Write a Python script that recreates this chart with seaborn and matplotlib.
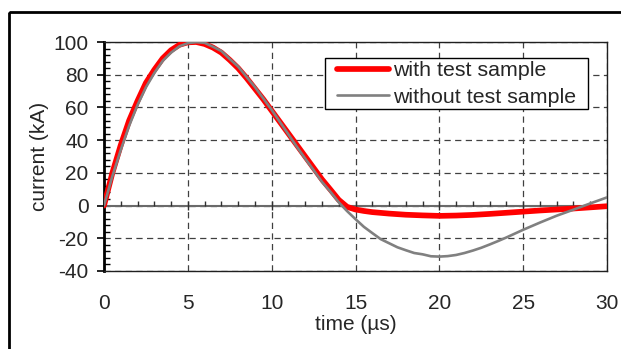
import matplotlib
matplotlib.use("Agg")
import matplotlib.pyplot as plt
import matplotlib.patches as mpatches
from matplotlib.ticker import MultipleLocator
import seaborn as sns
import pandas as pd

# ---- data ----
t_with = [0, 0.5, 1, 1.5, 2, 2.5, 3, 3.5, 4, 4.5, 5, 5.5, 6, 6.5, 7, 7.5, 8, 8.5,
          9, 9.5, 10, 10.5, 11, 11.5, 12, 12.5, 13, 13.5, 14, 14.5, 15, 15.5, 16,
          17, 18, 19, 20, 21, 22, 23, 24, 25, 26, 27, 28, 29, 30]
i_with = [0, 20, 37, 52, 64, 75, 83, 90, 95, 98.3, 99.8, 100, 98.8, 96.6, 93.5,
          89, 84, 78, 71.5, 65, 58, 51, 44, 37, 30, 23, 16, 9.8, 3.5, -0.8, -2.4,
          -3.3, -4.0, -4.9, -5.6, -6.0, -6.3, -6.1, -5.7, -5.1, -4.4, -3.7, -3.0,
          -2.4, -1.8, -1.1, -0.4]
t_without = [0, 0.5, 1, 1.5, 2, 2.5, 3, 3.5, 4, 4.5, 5, 5.5, 6, 6.5, 7, 7.5, 8,
             8.5, 9, 9.5, 10, 10.5, 11, 11.5, 12, 12.5, 13, 13.5, 14, 14.5, 15,
             15.5, 16, 16.5, 17, 17.5, 18, 18.5, 19, 19.5, 20, 20.5, 21, 21.5, 22,
             22.5, 23, 23.5, 24, 25, 26, 27, 28, 29, 30]
i_without = [0, 18, 34, 48.8, 61.5, 72.3, 81, 88.4, 93.5, 97.4, 99.3, 99.9, 99.5,
             97.1, 94.5, 89.6, 85, 78.7, 72.5, 65.5, 58.5, 51, 43.5, 36, 28.7,
             21.7, 14.5, 8.5, 2.0, -3.4, -8.3, -13.0, -16.8, -20.5, -23.0, -25.5,
             -27.3, -29.0, -29.8, -31.0, -31.2, -30.9, -30.2, -29.0, -27.5, -25.8,
             -23.8, -21.7, -19.5, -14.8, -10.4, -6.2, -2.5, 1.3, 5.0]
label_with = "with test sample"
label_without = "without test sample"
x_ticks = [0, 5, 10, 15, 20, 25, 30]
y_ticks = [-40, -20, 0, 20, 40, 60, 80, 100]

df_with = pd.DataFrame({"time": t_with, "current": i_with, "series": label_with})
df_without = pd.DataFrame({"time": t_without, "current": i_without, "series": label_without})

sns.set_theme(style="white")
plt.rcParams["font.family"] = ["Liberation Sans", "DejaVu Sans"]
plt.rcParams["axes.unicode_minus"] = False

FS = 15

fig = plt.figure(figsize=(6.21, 3.49), dpi=100)
ax = fig.add_axes([104 / 621, 1 - 271 / 349, 503 / 621, 229 / 349])

# outer frame of the figure
fig.patches.append(mpatches.Rectangle((9 / 621, 1 - 12 / 349), 2, -2,
                                      transform=fig.transFigure, fill=False,
                                      edgecolor="black", linewidth=2.0,
                                      clip_on=False))

sns.lineplot(data=df_with, x="time", y="current", ax=ax, color="#ff0000",
             linewidth=4.1, label=label_with, zorder=3)
sns.lineplot(data=df_without, x="time", y="current", ax=ax, color="#808080",
             linewidth=1.9, label=label_without, zorder=4)

ax.set_xlim(0, 30)
ax.set_ylim(-40, 100)
ax.set_xticks(x_ticks)
ax.set_yticks(y_ticks)
ax.yaxis.set_minor_locator(MultipleLocator(4))

ax.grid(True, which="major", color="#404040", linestyle=(0, (5, 3.5)), linewidth=0.9)
ax.set_axisbelow(True)

# zero line with minor ticks (Excel style category axis at y=0)
ax.axhline(0, color="#6a6a6a", linewidth=1.5, zorder=2)
for xv in range(1, 30):
    if xv % 5:
        ax.plot([xv, xv], [0, 2.6], color="#303030", linewidth=1.0, zorder=2,
                solid_capstyle="butt")
for xv in x_ticks[1:-1]:
    ax.plot([xv, xv], [-2.5, 2.8], color="#303030", linewidth=1.0, zorder=2,
            solid_capstyle="butt")

for s in ["top", "right", "bottom"]:
    ax.spines[s].set_color("#202020")
    ax.spines[s].set_linewidth(1.0)
ax.spines["left"].set_color("black")
ax.spines["left"].set_linewidth(2.0)

ax.tick_params(axis="y", which="major", direction="out", length=5, width=1.2,
               color="black", labelsize=FS, pad=6, left=True)
ax.tick_params(axis="y", which="minor", direction="in", length=4, width=1.0,
               color="black", left=True)
ax.tick_params(axis="x", which="major", length=0, labelsize=FS, pad=16.5)

ax.set_xlabel("time (µs)", fontsize=FS, labelpad=1.5)
ax.set_ylabel("current (kA)", fontsize=FS, labelpad=3)

# legend (frame drawn as a separate box to match the reference padding)
leg = ax.legend(loc="upper left", bbox_to_anchor=((337 - 104) / 503, (271 - 61.5) / 229),
                frameon=False, fontsize=15.4, handlelength=2.45,
                handletextpad=0.18, labelspacing=0.34, borderpad=0.0,
                borderaxespad=0.0)
ax.add_patch(mpatches.Rectangle(((325 - 104) / 503, (271 - 109) / 229),
                                (588.3 - 325) / 503, (109 - 57.7) / 229,
                                transform=ax.transAxes, facecolor="white",
                                edgecolor="black", linewidth=1.0, zorder=5))
leg.set_zorder(6)

fig.savefig("out.png", dpi=100)
